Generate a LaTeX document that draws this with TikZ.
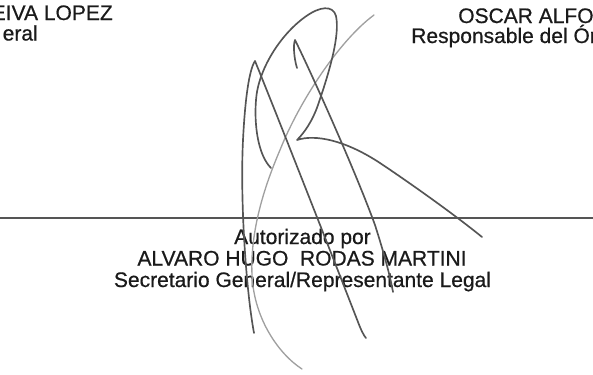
\documentclass[tikz,border=0pt]{standalone}
\usepackage{fontspec}
\setmainfont{Liberation Sans}[FakeBold=0.6]
\newfontfamily\scanfont{Liberation Sans}[FakeBold=0.6]
\definecolor{inkgray}{HTML}{555555}
\definecolor{palegray}{HTML}{A0A0A0}
\definecolor{printblack}{HTML}{1A1A1A}
\tikzset{
  sigline/.style={draw=inkgray, line width=1.25pt, line cap=round, line join=round},
  sigfaint/.style={draw=palegray, line width=1pt, line cap=round},
  printed/.style={inner sep=0pt, text=printblack, font=\scanfont\fontsize{15.75pt}{16pt}\selectfont},
}
\begin{document}
\begin{tikzpicture}[x=0.75pt,y=0.75pt,yscale=-1,xscale=1]
    \useasboundingbox (0,0) rectangle (593,375);

    % rule across the page
    \draw [draw=inkgray, line width=1.3pt]    (0,218) -- (593,218) ;

    % printed names
    \node (leiva) [printed, anchor=base east] at (113,20) {EIVA LOPEZ};
    \node (leivarole) [printed, anchor=base east] at (38,40.5) {eral};
    \node (oscar) [printed, anchor=base west] at (458,23) {OSCAR ALFO};
    \node (oscarrole) [printed, anchor=base west] at (411,43) {Responsable del Ór};

    \node (autor) [printed, anchor=base] at (302.5,244) {Autorizado por};
    \node (alvaro) [printed, anchor=base] at (302,265.5) {ALVARO HUGO\ \ RODAS MARTINI};
    \node (alvarorole) [printed, anchor=base] at (302.5,287) {Secretario General/Representante Legal};

    % signature
    \draw [sigfaint]   (374,15) .. controls (340,40) and (300,100) .. (280,150) .. controls (265,185) and (250,230) .. (252,275) .. controls (254,320) and (280,355) .. (302,369) ;
    \draw [sigline]   (254,333) .. controls (246,290) and (240,200) .. (243,140) .. controls (245,100) and (249,70) .. (255,61) .. controls (275,110) and (330,250) .. (358,322) .. controls (361,330) and (364,336) .. (366,338) ;
    \draw [sigline]   (271,168) .. controls (258,155) and (254,125) .. (256,100) .. controls (258,70) and (280,35) .. (305,17) .. controls (320,6) and (333,5) .. (336,16) .. controls (340,35) and (330,70) .. (318,105) .. controls (312,122) and (304,133) .. (297,140) .. controls (315,134) and (345,140) .. (380,163) .. controls (410,183) and (455,215) .. (482,237) ;
    \draw [sigline]   (297,68) .. controls (294,58) and (293,45) .. (295,40) .. controls (310,70) and (355,170) .. (375,225) .. controls (383,250) and (390,275) .. (393,292) ;
\end{tikzpicture}
\end{document}
